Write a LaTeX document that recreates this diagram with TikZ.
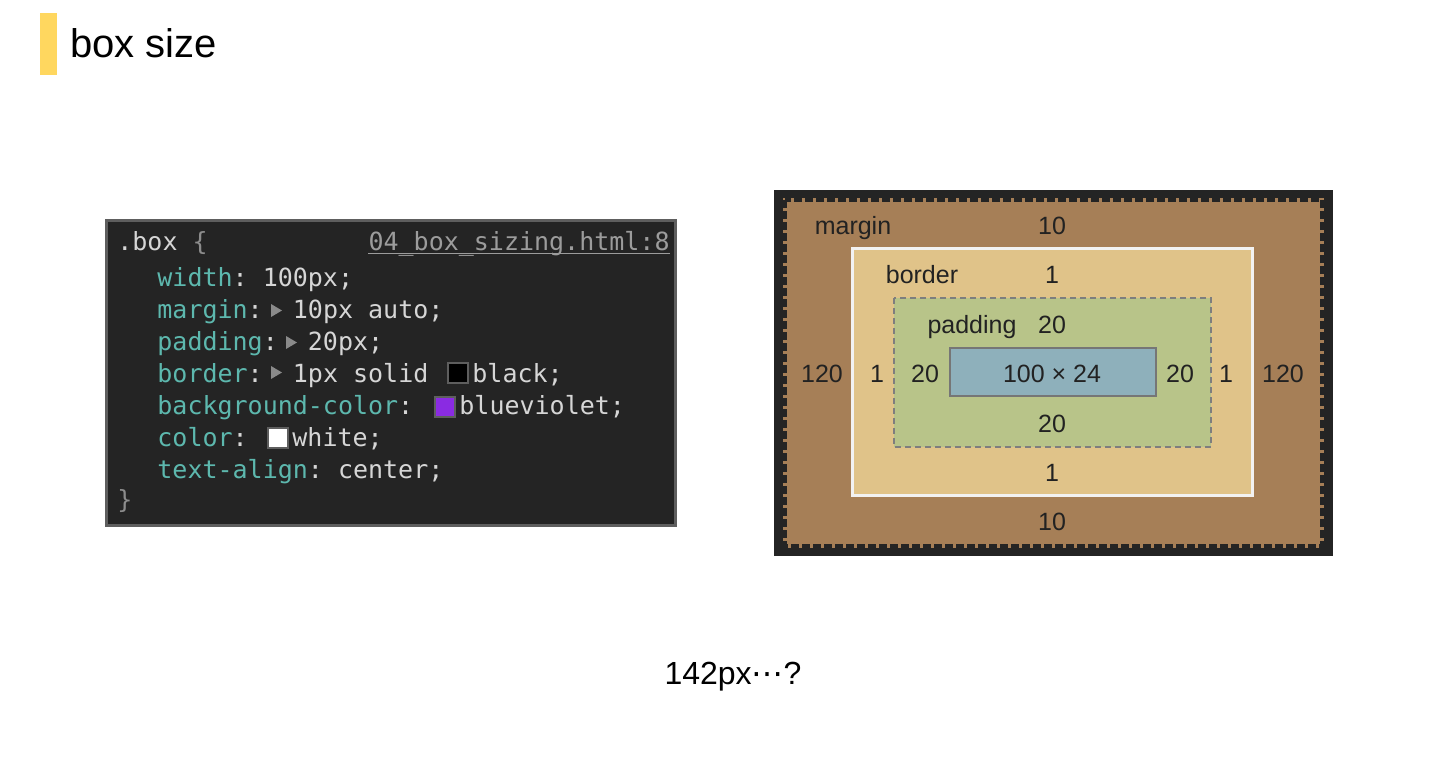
\documentclass[tikz,border=0pt]{standalone}
\usepackage{fontspec}
\setmainfont{Liberation Sans}
\setmonofont{DejaVu Sans Mono}
\newfontfamily\dotsfont{DejaVu Sans}
\usepackage{tikz}
\usetikzlibrary{positioning}
\definecolor{TitleBar}{HTML}{FFD75F}
\definecolor{PanelBg}{HTML}{242424}
\definecolor{PanelEdge}{HTML}{5E5E5E}
\definecolor{CodeProp}{HTML}{5DB8AE}
\definecolor{CodeVal}{HTML}{D6D6D6}
\definecolor{CodeBrace}{HTML}{8C8C8C}
\definecolor{CodeLink}{HTML}{9C9C9C}
\definecolor{TriGrey}{HTML}{8A8A8A}
\definecolor{BlueViolet}{HTML}{8A2BE2}
\definecolor{MarginFill}{HTML}{A67F57}
\definecolor{BorderFill}{HTML}{E0C389}
\definecolor{BorderEdge}{HTML}{F2F2F2}
\definecolor{PadFill}{HTML}{B8C489}
\definecolor{PadEdge}{HTML}{7E7E7E}
\definecolor{ContentFill}{HTML}{8EB0BB}
\definecolor{ContentEdge}{HTML}{767676}
\definecolor{LabelText}{HTML}{222222}
\tikzstyle{Swatch}=[draw=PanelEdge, line width=1pt, minimum size=10pt, inner sep=0, outer sep=0]

\begin{document}
\begin{tikzpicture}[
  x=0.5pt, y=-0.5pt,
  Code/.style={anchor=base west, inner sep=0, font=\fontsize{12.5}{15}\ttfamily, text=CodeVal},
  Prop/.style={Code, text=CodeProp},
  Tri/.style={fill=TriGrey},
  Num/.style={anchor=base, inner sep=0, font=\fontsize{12.5}{15}\selectfont, text=LabelText}
]
\useasboundingbox[fill=white] (0,0) rectangle (1447,756);

% title
\node[fill=TitleBar, minimum width=8.5pt, minimum height=31pt, inner sep=0] (bar) at (48.5,44) {};
\node[anchor=base west, inner sep=0, font=\fontsize{20}{24}\selectfont] (title) at (70,57) {box size};

% css rule
\draw[PanelEdge, line width=1.5pt, fill=PanelBg] (106.5,220.5) rectangle (675.5,525.5);
\node[Code, text=CodeVal] (sel) at (117,250) {.box \textcolor{CodeBrace}{\{}};
\node[Code, text=CodeLink, anchor=base east] (file) at (670,250) {04\_box\_sizing.html:8};
\draw[CodeLink, line width=0.6pt] ([yshift=-1.6pt]file.base west) -- ([yshift=-1.6pt]file.base east);
\node[Prop] (width) at (157,286) {width\textcolor{CodeVal}{: 100px;}};
\node[Prop] (margin) at (157,318) {margin\textcolor{CodeVal}{:}};
\fill[Tri] (271,304) -- (282,310.5) -- (271,317) -- cycle;
\node[Code] (marginval) at (292.5,318) {10px auto;};
\node[Prop] (padding) at (157,350) {padding\textcolor{CodeVal}{:}};
\fill[Tri] (286,336) -- (297,342.5) -- (286,349) -- cycle;
\node[Code] (paddingval) at (307.5,350) {20px;};
\node[Prop] (border) at (157,382) {border\textcolor{CodeVal}{:}};
\fill[Tri] (271,366) -- (282,372.5) -- (271,379) -- cycle;
\node[Code] (borderval) at (292.5,382) {1px solid};
\node[Swatch, fill=black] (swblack) at (458,373) {};
\node[Code] (black) at (472,382) {black;};
\node[Prop] (bgcolor) at (157,414) {background-color\textcolor{CodeVal}{:}};
\node[Swatch, fill=BlueViolet] (swviolet) at (444.5,406.5) {};
\node[Code] (violet) at (459,414) {blueviolet;};
\node[Prop] (color) at (157,446) {color\textcolor{CodeVal}{:}};
\node[Swatch, fill=white] (swwhite) at (277.5,437.5) {};
\node[Code] (white) at (292,446) {white;};
\node[Prop] (align) at (157,478) {text-align\textcolor{CodeVal}{: center;}};
\node[Code, text=CodeBrace] (close) at (117,508) {\}};

% box model
\fill[PanelBg] (774,190) rectangle (1333,556);
\fill[MarginFill] (783,198) rectangle (1324,548);
\draw[PanelBg, line width=2pt, dash pattern=on 4pt off 1.5pt] (785,200) rectangle (1322,546);
\draw[BorderEdge, line width=1.5pt, fill=BorderFill] (852.5,248.5) rectangle (1252.5,495.5);
\draw[PadEdge, line width=1pt, dash pattern=on 3pt off 2pt, fill=PadFill] (894,298) rectangle (1211,447);
\draw[ContentEdge, line width=1pt, fill=ContentFill] (950,348) rectangle (1156,396);

\node[Num] (mlabel) at (853,234) {margin};
\node[Num] (mtop) at (1052,234) {10};
\node[Num] (blabel) at (922,283) {border};
\node[Num] (btop) at (1052,283) {1};
\node[Num] (plabel) at (972,333) {padding};
\node[Num] (ptop) at (1052,333) {20};
\node[Num] (mleft) at (822,382) {120};
\node[Num] (bleft) at (877,382) {1};
\node[Num] (pleft) at (925,382) {20};
\node[Num] (content) at (1052,382) {100 × 24};
\node[Num] (pright) at (1180,382) {20};
\node[Num] (bright) at (1226,382) {1};
\node[Num] (mright) at (1283,382) {120};
\node[Num] (pbottom) at (1052,432) {20};
\node[Num] (bbottom) at (1052,481) {1};
\node[Num] (mbottom) at (1052,530) {10};

\node[anchor=base, inner sep=0, font=\fontsize{16}{19}\selectfont] (question) at (733,684) {142px{\dotsfont ⋯}?};
\end{tikzpicture}
\end{document}
